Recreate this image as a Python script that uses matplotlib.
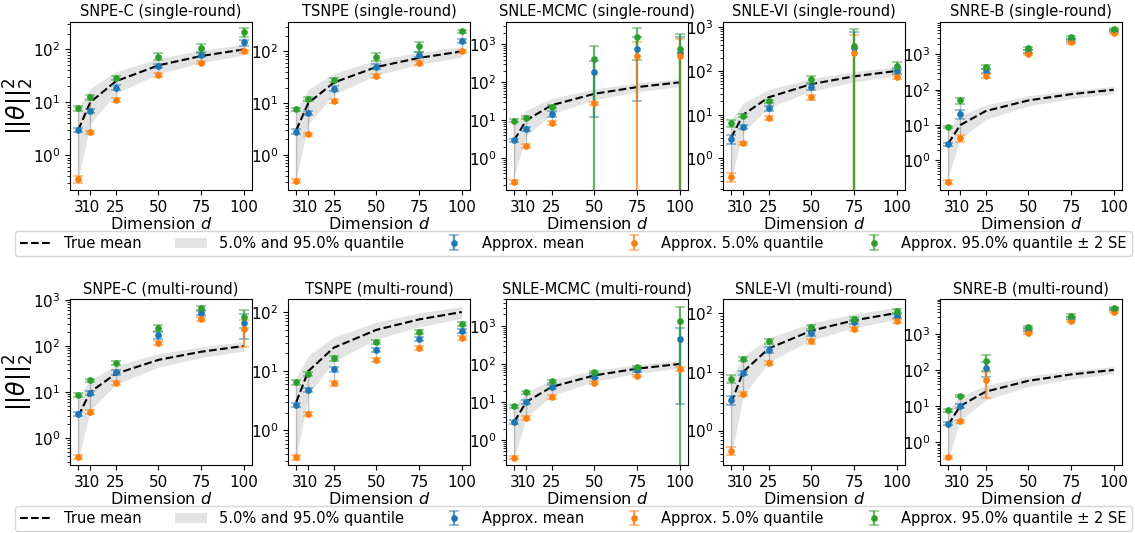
import matplotlib
matplotlib.use("Agg")
import matplotlib.pyplot as plt
import numpy as np

plt.rcParams["font.family"] = ["DejaVu Sans"]

# ---------------- data ----------------
DIMS = [3, 10, 25, 50, 75, 100]
TRUE_MEAN = [3, 10, 25, 50, 75, 100]
TRUE_Q05 = [0.352, 3.940, 14.611, 34.764, 56.054, 77.929]
TRUE_Q95 = [7.815, 18.307, 37.652, 67.505, 96.217, 124.342]

TITLES = [
    "SNPE-C (single-round)", "TSNPE (single-round)", "SNLE-MCMC (single-round)",
    "SNLE-VI (single-round)", "SNRE-B (single-round)",
    "SNPE-C (multi-round)", "TSNPE (multi-round)", "SNLE-MCMC (multi-round)",
    "SNLE-VI (multi-round)", "SNRE-B (multi-round)",
]

# SNPE-C single-round
snpe_s_mean = [3.0, 7.0, 19, 49, 80, 136]
snpe_s_mean_err = [0.3, 0.6, 2, 5, 8, 18]
snpe_s_q05 = [0.35, 2.7, 11, 33, 56, 92]
snpe_s_q05_err = [0.05, 0.2, 1, 2.5, 4, 7]
snpe_s_q95 = [7.7, 12.5, 29, 73, 105, 213]
snpe_s_q95_err = [0.7, 1.2, 2.5, 11, 20, 40]

# TSNPE single-round
tsnpe_s_mean = [2.8, 6.4, 19, 51, 87, 158]
tsnpe_s_mean_err = [0.3, 0.6, 2, 6, 10, 15]
tsnpe_s_q05 = [0.32, 2.5, 11, 34, 60, 100]
tsnpe_s_q05_err = [0.03, 0.2, 1, 3, 5, 8]
tsnpe_s_q95 = [7.6, 12, 28, 79, 125, 245]
tsnpe_s_q95_err = [0.6, 1, 2, 15, 28, 20]

# SNLE-MCMC single-round
snlem_s_mean = [3.0, 6.0, 15, 190, 780, 610]
snlem_s_mean_err = [0.3, 0.7, 2.5, 178, 748, 940]
snlem_s_q05 = [0.24, 2.1, 8.7, 28, 510, 510]
snlem_s_q05_err = [0.03, 0.2, 1, 3, 630, 860]
snlem_s_q95 = [9.8, 11.8, 23, 420, 1550, 740]
snlem_s_q95_err = [0.8, 1, 2, 470, 1150, 1120]

# SNLE-VI single-round
snlev_s_mean = [2.8, 5.3, 14, 43, 325, 100]
snlev_s_mean_err = [0.7, 0.6, 2, 7, 435, 15]
snlev_s_q05 = [0.38, 2.2, 8.5, 25, 250, 73]
snlev_s_q05_err = [0.09, 0.2, 0.9, 3, 400, 6]
snlev_s_q95 = [6.5, 9.5, 20, 65, 380, 131]
snlev_s_q95_err = [1.2, 0.8, 2, 12, 520, 25]

# SNRE-B single-round
snre_s_mean = [2.9, 21, 345, 1200, 2500, 4600]
snre_s_mean_err = [0.3, 6.5, 50, 120, 220, 350]
snre_s_q05 = [0.25, 4.3, 245, 1050, 2200, 4000]
snre_s_q05_err = [0.03, 1.0, 30, 80, 180, 300]
snre_s_q95 = [8.9, 50, 450, 1480, 3100, 5200]
snre_s_q95_err = [0.8, 10, 60, 150, 280, 400]

# SNPE-C multi-round
snpe_m_mean = [3.3, 9.5, 27, 174, 525, 315]
snpe_m_mean_err = [0.3, 1, 3, 30, 60, 170]
snpe_m_q05 = [0.39, 3.7, 16, 117, 390, 235]
snpe_m_q05_err = [0.04, 0.4, 1.5, 12, 40, 140]
snpe_m_q95 = [8.6, 18, 43, 245, 680, 430]
snpe_m_q95_err = [0.7, 1.5, 4, 35, 70, 180]

# TSNPE multi-round
tsnpe_m_mean = [2.7, 4.8, 10.7, 23, 35, 48]
tsnpe_m_mean_err = [0.25, 0.4, 1, 2, 3, 4]
tsnpe_m_q05 = [0.35, 1.9, 6.2, 15.5, 25, 37]
tsnpe_m_q05_err = [0.03, 0.15, 0.5, 1.3, 2, 3]
tsnpe_m_q95 = [6.5, 9.0, 16.5, 31, 46, 62]
tsnpe_m_q95_err = [0.6, 0.8, 1.4, 2.5, 4, 5]

# SNLE-MCMC multi-round
snlem_m_mean = [3.0, 10, 25, 46, 69, 455]
snlem_m_mean_err = [0.3, 1, 3, 4, 6, 446]
snlem_m_q05 = [0.34, 3.8, 13.5, 32, 48, 74]
snlem_m_q05_err = [0.03, 0.4, 1.5, 3, 4, 7]
snlem_m_q95 = [7.8, 18, 35, 62, 83, 1350]
snlem_m_q95_err = [0.7, 1.6, 3, 5, 7, 1810]

# SNLE-VI multi-round
snlev_m_mean = [3.3, 9.6, 23.5, 45, 70, 89]
snlev_m_mean_err = [0.55, 0.9, 2.5, 4, 6, 8]
snlev_m_q05 = [0.45, 4.2, 14, 33, 53, 73]
snlev_m_q05_err = [0.07, 0.35, 1.2, 3, 4, 6]
snlev_m_q95 = [7.6, 16.5, 33, 58, 80, 108]
snlev_m_q95_err = [1.1, 1.4, 3, 5, 7, 9]

# SNRE-B multi-round
snre_m_mean = [3.2, 10, 115, 1300, 2800, 4900]
snre_m_mean_err = [0.3, 1, 50, 120, 230, 400]
snre_m_q05 = [0.38, 3.8, 52, 1070, 2300, 4100]
snre_m_q05_err = [0.04, 0.35, 35, 90, 180, 300]
snre_m_q95 = [7.7, 19, 178, 1560, 3200, 5300]
snre_m_q95_err = [0.7, 1.7, 85, 150, 280, 400]

PANELS = [
    (snpe_s_mean, snpe_s_mean_err, snpe_s_q05, snpe_s_q05_err, snpe_s_q95, snpe_s_q95_err),
    (tsnpe_s_mean, tsnpe_s_mean_err, tsnpe_s_q05, tsnpe_s_q05_err, tsnpe_s_q95, tsnpe_s_q95_err),
    (snlem_s_mean, snlem_s_mean_err, snlem_s_q05, snlem_s_q05_err, snlem_s_q95, snlem_s_q95_err),
    (snlev_s_mean, snlev_s_mean_err, snlev_s_q05, snlev_s_q05_err, snlev_s_q95, snlev_s_q95_err),
    (snre_s_mean, snre_s_mean_err, snre_s_q05, snre_s_q05_err, snre_s_q95, snre_s_q95_err),
    (snpe_m_mean, snpe_m_mean_err, snpe_m_q05, snpe_m_q05_err, snpe_m_q95, snpe_m_q95_err),
    (tsnpe_m_mean, tsnpe_m_mean_err, tsnpe_m_q05, tsnpe_m_q05_err, tsnpe_m_q95, tsnpe_m_q95_err),
    (snlem_m_mean, snlem_m_mean_err, snlem_m_q05, snlem_m_q05_err, snlem_m_q95, snlem_m_q95_err),
    (snlev_m_mean, snlev_m_mean_err, snlev_m_q05, snlev_m_q05_err, snlev_m_q95, snlev_m_q95_err),
    (snre_m_mean, snre_m_mean_err, snre_m_q05, snre_m_q05_err, snre_m_q95, snre_m_q95_err),
]

YLIMS = [(0.22, 330), (0.21, 370), (0.145, 3900), (0.19, 1310), (0.145, 8300),
         (0.26, 1050), (0.26, 166), (0.22, 5100), (0.26, 173), (0.23, 9300)]

LEGEND_LABELS = ["True mean", "5.0% and 95.0% quantile", "Approx. mean",
                 "Approx. 5.0% quantile", "Approx. 95.0% quantile \u00b1 2 SE"]

# ---------------- figure ----------------
W, H = 1135, 533
fig = plt.figure(figsize=(W / 100, H / 100), dpi=100)

lefts = [70, 288, 506, 723, 940]
axw = 182
rows = [(22, 190), (299, 465)]

C_BLUE, C_ORANGE, C_GREEN = "#1f77b4", "#ff7f0e", "#2ca02c"

def eb(ax, y, e, color):
    cont = ax.errorbar(DIMS, y, yerr=e, fmt="o", color=color, ms=3.8,
                       capsize=3.5, elinewidth=1.6, capthick=1.2, zorder=3)
    for c in cont[1]:
        c.set_alpha(0.55)
    for c in cont[2]:
        c.set_alpha(0.75)
    return cont

handles_rows = []
for i, (title, data, ylim) in enumerate(zip(TITLES, PANELS, YLIMS)):
    r, c = divmod(i, 5)
    top, bot = rows[r]
    ax = fig.add_axes([lefts[c] / W, 1 - bot / H, axw / W, (bot - top) / H])
    mean, mean_e, q05, q05_e, q95, q95_e = data
    ax.set_yscale("log")
    band = ax.fill_between(DIMS, TRUE_Q05, TRUE_Q95, color="grey", alpha=0.22,
                           linewidth=0, zorder=1)
    ax.vlines(DIMS, q05, q95, color="grey", alpha=0.5, linewidth=1.0, zorder=2)
    line, = ax.plot(DIMS, TRUE_MEAN, "k--", linewidth=1.5, zorder=2.5)
    h_mean = eb(ax, mean, mean_e, C_BLUE)
    h_q05 = eb(ax, q05, q05_e, C_ORANGE)
    h_q95 = eb(ax, q95, q95_e, C_GREEN)
    ax.set_ylim(*ylim)
    ax.set_xticks(DIMS)
    ax.set_xticklabels([str(d) for d in DIMS])
    ax.tick_params(labelsize=11)
    ax.set_title(title, fontsize=10.5, pad=4)
    ax.set_xlabel(r"Dimension $d$", fontsize=11.5, labelpad=1)
    if c == 0:
        ax.set_ylabel(r"$||\theta||_2^2$", fontsize=17)
        ax.yaxis.set_label_coords(-0.185, 0.5)
        handles_rows.append([line, band, h_mean, h_q05, h_q95])

leg_boxes = [(229, 256), (504, 531)]
for hs, (t, b) in zip(handles_rows, leg_boxes):
    fig.legend(hs, LEGEND_LABELS, loc="lower left", ncol=5, mode="expand",
               bbox_to_anchor=(15 / W, 1 - b / H, 1117 / W, (b - t) / H),
               fontsize=10.5, frameon=True, borderaxespad=0, handlelength=2.2,
               borderpad=0.35)

fig.savefig("out.png", dpi=100)
